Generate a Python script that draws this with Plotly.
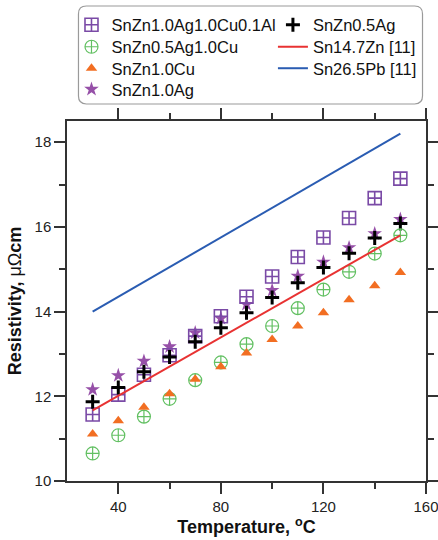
import plotly.graph_objects as go

temps = [30, 40, 50, 60, 70, 80, 90, 100, 110, 120, 130, 140, 150]
snzn_ag1_cu1_al = [11.57, 12.04, 12.51, 12.97, 13.42, 13.89, 14.35, 14.83, 15.29, 15.75, 16.21, 16.68, 17.14]
snzn_ag05_cu1 = [10.65, 11.08, 11.52, 11.94, 12.38, 12.80, 13.23, 13.66, 14.08, 14.52, 14.94, 15.37, 15.80]
snzn_cu1 = [11.11, 11.42, 11.74, 12.06, 12.40, 12.70, 13.02, 13.34, 13.66, 13.97, 14.28, 14.61, 14.92]
snzn_ag05 = [11.87, 12.21, 12.58, 12.93, 13.29, 13.62, 13.97, 14.33, 14.68, 15.04, 15.38, 15.74, 16.08]
snzn_ag1 = [12.16, 12.49, 12.83, 13.17, 13.50, 13.84, 14.17, 14.50, 14.84, 15.17, 15.51, 15.84, 16.18]
ref_t = [30, 150]
sn_zn_ref = [11.67, 15.80]
sn_pb_ref = [14.0, 18.2]

FONT = "Arial, Liberation Sans, sans-serif"
fig = go.Figure()

fig.add_trace(go.Scatter(x=temps, y=snzn_ag1, mode="markers", name="SnZn1.0Ag",
                         marker=dict(symbol="star", size=11, color="#9650a8", line=dict(width=0)),
                         legend="legend4"))
fig.add_trace(go.Scatter(x=temps, y=snzn_ag1_cu1_al, mode="markers", name="SnZn1.0Ag1.0Cu0.1Al",
                         marker=dict(symbol="square-cross-open", size=13, color="#7a4aa6", line=dict(width=1.6, color="#7a4aa6")),
                         legend="legend"))
fig.add_trace(go.Scatter(x=temps, y=snzn_ag05, mode="markers", name="SnZn0.5Ag",
                         marker=dict(symbol="cross-thin-open", size=10, color="#000000", line=dict(width=3, color="#000000")),
                         legend="legend5"))
fig.add_trace(go.Scatter(x=temps, y=snzn_ag05_cu1, mode="markers", name="SnZn0.5Ag1.0Cu",
                         marker=dict(symbol="circle-cross-open", size=13, color="#62c062", line=dict(width=1.2, color="#62c062")),
                         legend="legend2"))
fig.add_trace(go.Scatter(x=temps, y=snzn_cu1, mode="markers", name="SnZn1.0Cu",
                         marker=dict(symbol="triangle-up", size=10, color="#f26e22", line=dict(width=0)),
                         legend="legend3"))
fig.add_trace(go.Scatter(x=ref_t, y=sn_zn_ref, mode="lines", name="Sn14.7Zn [11]",
                         line=dict(color="#e83232", width=2),
                         legend="legend6"))
fig.add_trace(go.Scatter(x=ref_t, y=sn_pb_ref, mode="lines", name="Sn26.5Pb [11]",
                         line=dict(color="#2a5cb2", width=2),
                         legend="legend7"))

axis_common = dict(
    showline=True, linecolor="#333333", linewidth=1.5, mirror="ticks",
    ticks="outside", tickcolor="#333333", tickwidth=1.5, ticklen=11,
    showgrid=False, zeroline=False, ticklabeloverflow="allow",
    tickfont=dict(family=FONT, size=15, color="#222222"),
)

fig.update_xaxes(range=[20, 160], tickvals=[40, 80, 120, 160],
                 minor=dict(tickvals=[60, 100, 140], ticks="outside", ticklen=6, tickcolor="#333333", tickwidth=1.5),
                 title=dict(text="<b>Temperature, <sup>o</sup>C</b>", font=dict(family=FONT, size=18, color="#111111"), standoff=6),
                 **axis_common)
fig.update_yaxes(range=[10, 18.5], tickvals=[10, 12, 14, 16, 18],
                 minor=dict(tickvals=[11, 13, 15, 17], ticks="outside", ticklen=6, tickcolor="#333333", tickwidth=1.5),
                 title=dict(text="<b>Resistivity, </b>μΩ<b>cm</b>", font=dict(family=FONT, size=18, color="#111111"), standoff=8),
                 **axis_common)

leg_common = dict(bgcolor="rgba(0,0,0,0)", borderwidth=0, font=dict(family=FONT, size=16.5, color="#111111"),
                  orientation="v", xanchor="left", yanchor="middle", itemsizing="trace")


def ypx(p):
    return (481 - p) / 360


def xpx(p):
    return (p - 66.5) / 360


rows = [25, 47, 68.5, 89.5]
c1, c2 = xpx(71), xpx(273)
fig.update_layout(
    legend=dict(x=c1, y=ypx(rows[0]), **leg_common),
    legend2=dict(x=c1, y=ypx(rows[1]), **leg_common),
    legend3=dict(x=c1, y=ypx(rows[2]), **leg_common),
    legend4=dict(x=c1, y=ypx(rows[3]), **leg_common),
    legend5=dict(x=c2, y=ypx(rows[0]), **leg_common),
    legend6=dict(x=c2, y=ypx(rows[1]), **leg_common),
    legend7=dict(x=c2, y=ypx(rows[2]), **leg_common),
)

# rounded legend frame
x0, x1, y0, y1, r = xpx(78), xpx(423), ypx(104), ypx(6), 0.022
path = (f"M {x0+r},{y1} L {x1-r},{y1} Q {x1},{y1} {x1},{y1-r} L {x1},{y0+r} Q {x1},{y0} {x1-r},{y0} "
        f"L {x0+r},{y0} Q {x0},{y0} {x0},{y0+r} L {x0},{y1-r} Q {x0},{y1} {x0+r},{y1} Z")
fig.add_shape(type="path", path=path, xref="paper", yref="paper", line=dict(color="#9a9a9a", width=1.2),
              fillcolor="rgba(0,0,0,0)", layer="below")

fig.update_layout(
    width=438, height=540,
    margin=dict(l=66.5, r=11.5, t=121, b=59, autoexpand=False),
    paper_bgcolor="white", plot_bgcolor="white",
    font=dict(family=FONT),
    showlegend=True,
)

fig.write_html("out.html")
